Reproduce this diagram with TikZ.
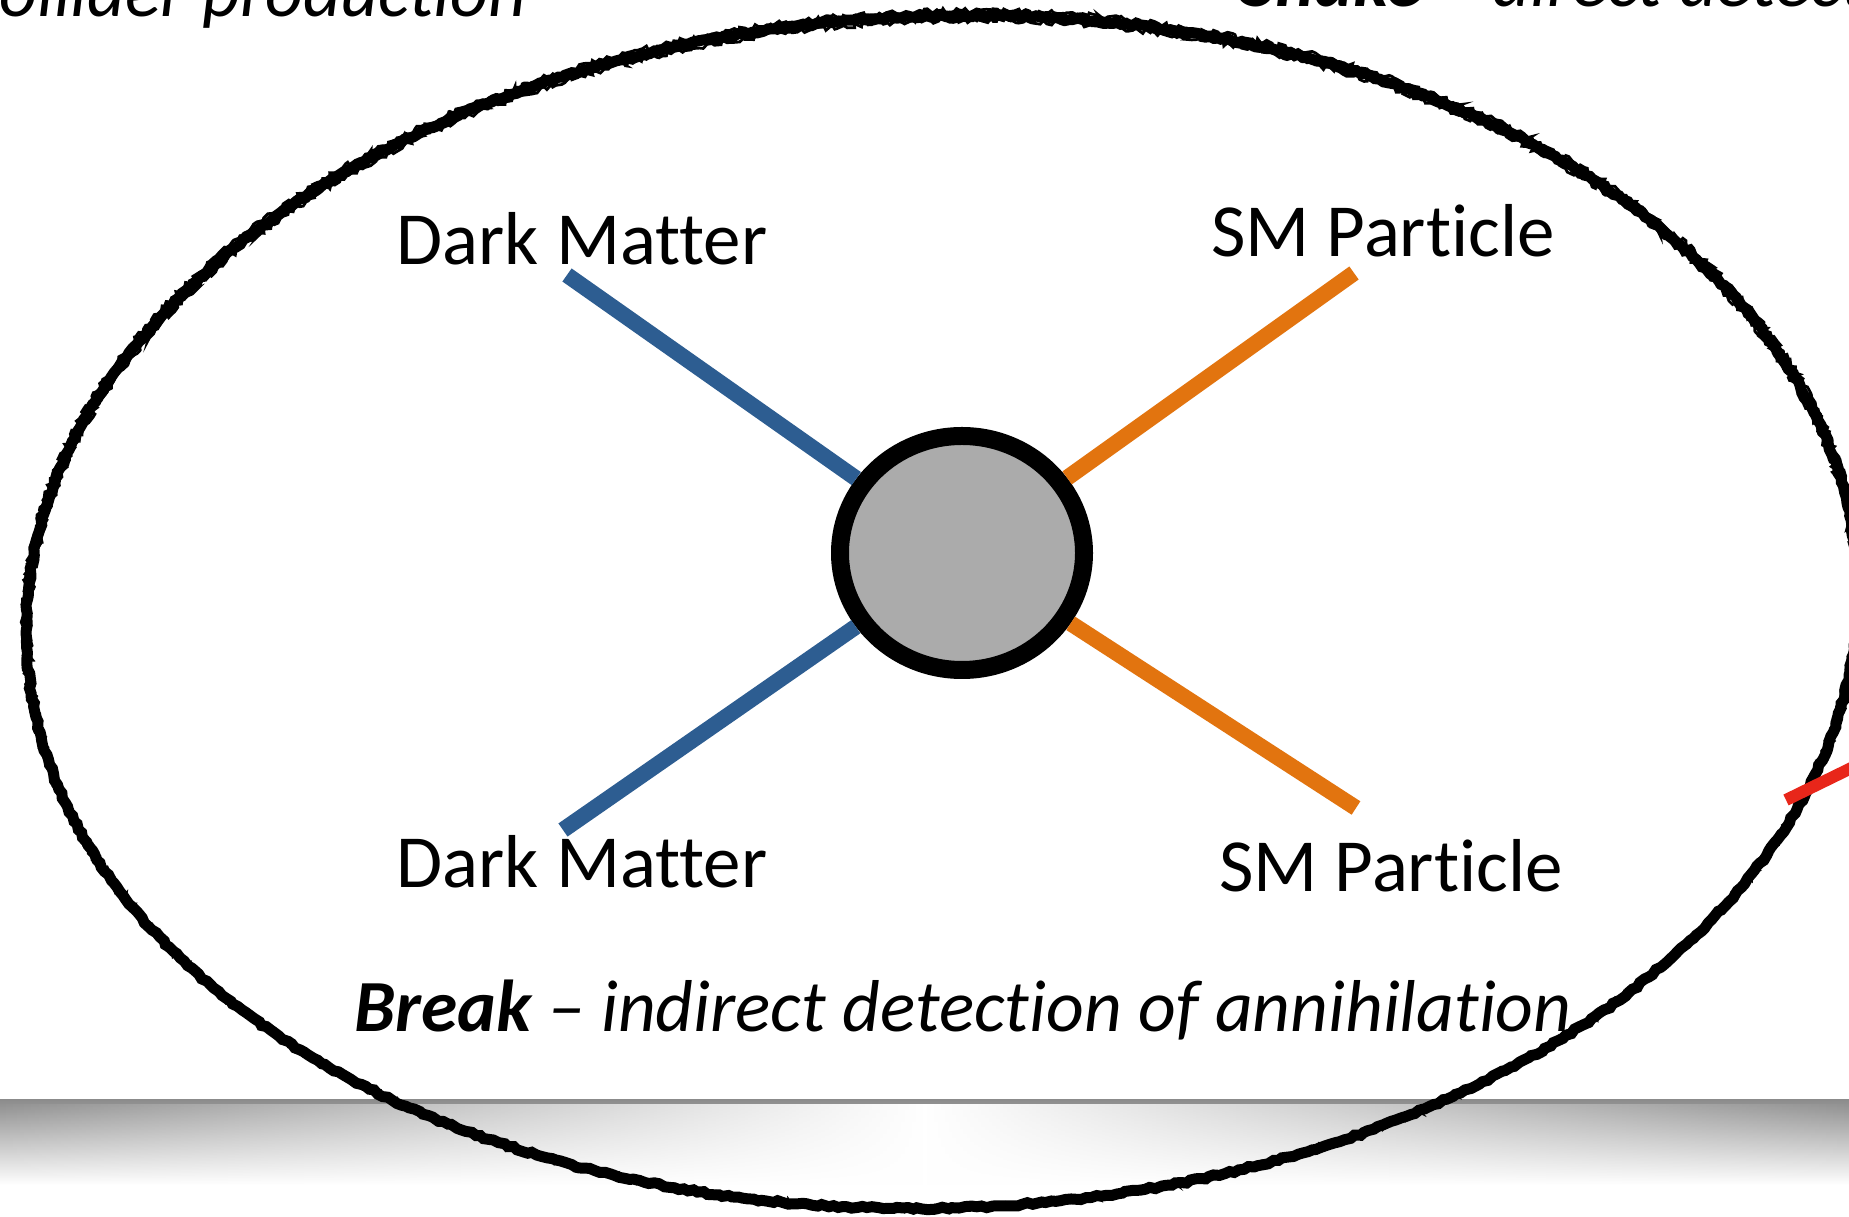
\documentclass[tikz,border=0pt]{standalone}
\usepackage{fontspec}
\setmainfont{Carlito}[Ligatures={NoCommon}]
\usetikzlibrary{decorations.pathmorphing,fadings,shapes.geometric}

\definecolor{dmblue}{RGB}{45,93,145}
\definecolor{smorange}{RGB}{226,116,15}
\definecolor{blobgray}{RGB}{171,171,171}
\definecolor{marker}{RGB}{232,38,26}

% white wash that leaves the shadow band darker only towards the sides
\tikzfading[name=midclear, left color=transparent!100, right color=transparent!100, middle color=transparent!0]

\tikzset{
  lbl/.style={font=\fontsize{30pt}{36pt}\selectfont, inner sep=0pt},
  capt/.style={font=\fontsize{29.4pt}{36pt}\selectfont\itshape, inner sep=0pt},
  dmline/.style={draw=dmblue, line width=6.4pt},
  smline/.style={draw=smorange, line width=6.4pt},
  blob/.style={ellipse, draw=black, fill=blobgray, line width=7.2pt,
               minimum width=97.6pt, minimum height=93.6pt, inner sep=0pt},
  rough/.style={draw=black, line width=4.4pt,
                decorate, decoration={random steps, segment length=2pt, amplitude=0.5pt}},
  roughthin/.style={draw=black, line width=1.1pt,
                decorate, decoration={random steps, segment length=1.4pt, amplitude=1pt}},
}

\begin{document}
\begin{tikzpicture}[x=0.4pt, y=-0.4pt]
  \path[use as bounding box] (0,0) rectangle (1849,1217);
  \clip (0,0) rectangle (1849,1217);
  \fill[white] (0,0) rectangle (1849,1217);

  % slide shadow band near the bottom
  \shade[top color=black!45, bottom color=white] (0,1100) rectangle (1849,1185);
  \fill[white, path fading=midclear] (0,1104) rectangle (1849,1185);

  % partially visible headings along the top edge
  \node[capt, anchor=base east] (hdLeft) at (527,17) {Collider production};
  \node[capt, anchor=base west] (hdRight) at (1241,7) {\textbf{Shake} – direct detection};

  % labels
  \node[lbl, anchor=base] (dmTop) at (582,265) {Dark Matter};
  \node[lbl, anchor=base] (smTop) at (1383,257) {SM Particle};
  \node[lbl, anchor=base] (dmBot) at (582,888) {Dark Matter};
  \node[lbl, anchor=base] (smBot) at (1391,892) {SM Particle};
  \node[capt, anchor=base] (cap) at (963,1032) {\textbf{Break} – indirect detection of annihilation};

  % interaction vertex and its four legs
  \node[blob] (core) at (962,553) {};
  \coordinate (dmTopEnd) at (567,275);
  \coordinate (dmBotEnd) at (563,830);
  \coordinate (smTopEnd) at (1354,273);
  \coordinate (smBotEnd) at (1356,808);
  \draw[dmline] (dmTopEnd) -- (core);
  \draw[dmline] (dmBotEnd) -- (core);
  \draw[smline] (smTopEnd) -- (core);
  \draw[smline] (smBotEnd) -- (core);

  % hand-drawn ring around the whole diagram
  \begin{scope}[rotate around={2.0:(942,612)}]
    \path[rough] (942,612) ellipse [x radius=916, y radius=596];
    \path[roughthin] (942,610) ellipse [x radius=919, y radius=599];
    \path[roughthin] (942,614) ellipse [x radius=913, y radius=593];
  \end{scope}

  % red pen stroke at the right edge
  \coordinate (mkA) at (1786,800);
  \coordinate (mkB) at (1880,754);
  \draw[marker, line width=4.8pt] (mkA) -- (mkB);
\end{tikzpicture}
\end{document}
